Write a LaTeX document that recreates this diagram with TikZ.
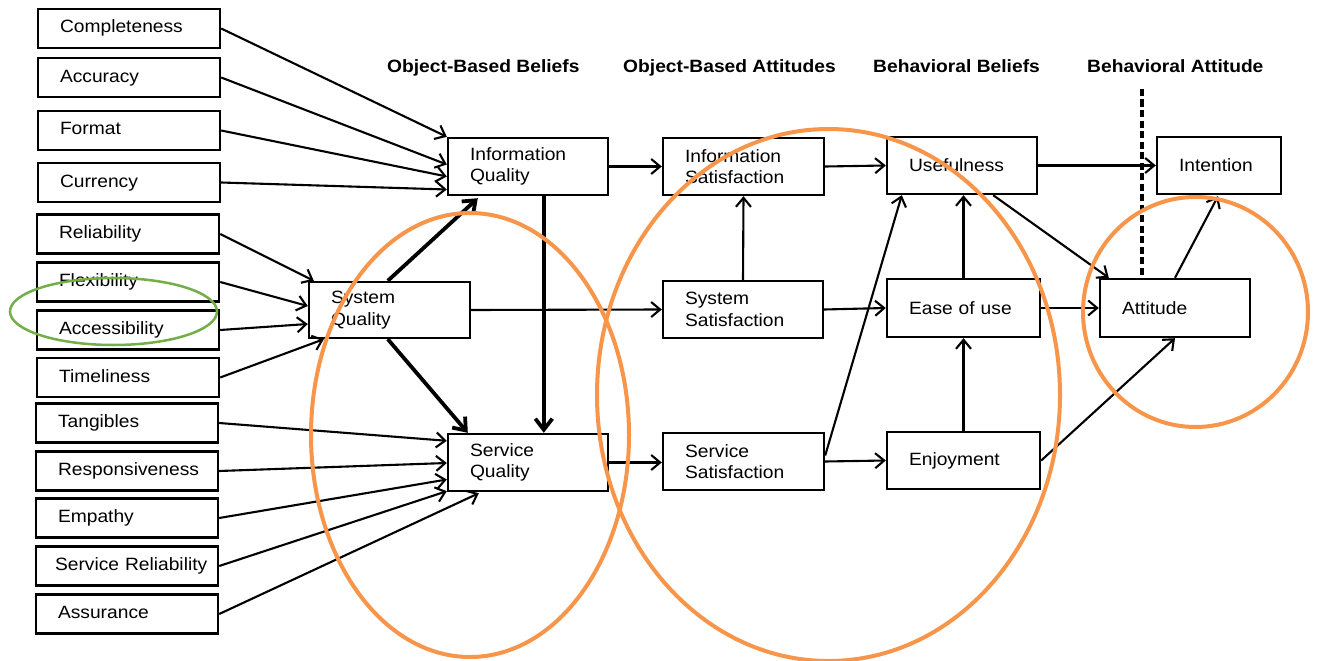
\documentclass[tikz,border=0pt]{standalone}
\usepackage{fontspec}
\setmainfont{Liberation Sans}[FakeStretch=1.08]
\usetikzlibrary{arrows.meta,calc}
\definecolor{orng}{HTML}{F7964A}
\definecolor{grn}{HTML}{74AE48}
\begin{document}
\begin{tikzpicture}[x=1pt,y=-1pt,
  font=\fontsize{17.8pt}{21.5pt}\selectfont,
  box/.style={draw, line width=2.4pt, fill=white, inner xsep=22pt, inner ysep=0pt, align=left},
  lbox/.style={box, minimum height=39pt, text width=138pt, text height=13pt, text depth=4pt},
  mbox/.style={box, minimum height=57pt},
  hdr/.style={font=\fontsize{17.8pt}{21.5pt}\selectfont\bfseries, anchor=base west, inner sep=0pt},
  arr/.style={-{Straight Barb[length=9pt,width=15pt]}, line width=2.1pt},
  tarr/.style={-{Straight Barb[length=11pt,width=17pt]}, line width=3.8pt},
  ring/.style={draw=orng, line width=4pt},
  dsh/.style={line width=4.5pt, dash pattern=on 7pt off 3.5pt}]
\fill[white] (0,0) rectangle (1318,661);
\useasboundingbox (0,0) rectangle (1318,661);

% headers
\node[hdr] (h1) at (387,73) {Object-Based Beliefs};
\node[hdr] (h2) at (623,73) {Object-Based Attitudes};
\node[hdr] (h3) at (873,73) {Behavioral Beliefs};
\node[hdr] (h4) at (1087,73) {Behavioral Attitude};

% left column
\node[lbox, minimum width=182pt] (comp) at (129,28.5) {Completeness};
\node[lbox, minimum width=182pt] (acc) at (129,77.5) {Accuracy};
\node[lbox, minimum width=182pt] (fmt) at (129,130.5) {Format};
\node[lbox, minimum width=182pt] (cur) at (129,182.5) {Currency};
\node[lbox, minimum width=182pt] (rel) at (128,234) {Reliability};
\node[lbox, minimum width=182pt] (flex) at (128,282) {Flexibility};
\node[lbox, minimum width=182pt] (accs) at (128,330) {Accessibility};
\node[lbox, minimum width=182pt] (time) at (128,377.5) {Timeliness};
\node[lbox, minimum width=182pt] (tang) at (127,423) {Tangibles};
\node[lbox, minimum width=182pt] (resp) at (127,471) {Responsiveness};
\node[lbox, minimum width=182pt] (emp) at (127,518) {Empathy};
\node[lbox, minimum width=182pt, inner xsep=19pt, text width=144pt] (srel) at (127,566) {\mbox{Service Reliability}};
\node[lbox, minimum width=182pt] (assu) at (127,614) {Assurance};

% main boxes
\node[mbox, text width=116pt] (iq) at (528,166.5) {Information\\Quality};
\node[mbox, text width=117pt] (isat) at (743.5,166.5) {Information\\Satisfaction};
\node[mbox, text width=106pt] (use) at (962,165.5) {Usefulness};
\node[mbox, text width=80pt] (intn) at (1219,165.5) {Intention};
\node[mbox, text width=117pt, minimum height=56pt] (sq) at (389.5,310) {System\\Quality};
\node[mbox, text width=116pt] (ssat) at (743,309.5) {System\\Satisfaction};
\node[mbox, text width=109pt, minimum height=58pt] (ease) at (963.5,308) {Ease of use};
\node[mbox, text width=106pt, minimum height=58pt] (att) at (1175,308) {Attitude};
\node[mbox, text width=116pt] (servq) at (528,462.5) {Service\\Quality};
\node[mbox, text width=117pt] (servsat) at (743.5,461.5) {Service\\Satisfaction};
\node[mbox, text width=109pt] (enj) at (963.5,460.5) {Enjoyment};

% inputs to Information Quality
\draw[arr] (comp.east) -- (iq.north west);
\draw[arr] (acc.east) -- ($(iq.west)+(0,-2)$);
\draw[arr] (fmt.east) -- ($(iq.west)+(0,10)$);
\draw[arr] (cur.east) -- ($(iq.west)+(0,23)$);
% inputs to System Quality
\draw[arr] (rel.east) -- ($(sq.north west)+(6,0)$);
\draw[arr] (flex.east) -- ($(sq.west)+(0,-4)$);
\draw[arr] (accs.east) -- ($(sq.west)+(0,14)$);
\draw[arr] (time.east) -- ($(sq.south west)+(16,0)$);
% inputs to Service Quality
\draw[arr] (tang.east) -- ($(servq.north west)+(0,8)$);
\draw[arr] (resp.east) -- ($(servq.west)+(0,0.5)$);
\draw[arr] (emp.east) -- ($(servq.west)+(0,17)$);
\draw[arr] (srel.east) -- ($(servq.south west)+(0,-1)$);
\draw[arr] (assu.east) -- ($(servq.south west)+(32,1)$);

% thick arrows
\draw[tarr] ($(sq.north west)+(80,0)$) -- ($(iq.south west)+(31,2)$);
\draw[tarr] ($(sq.south west)+(80,0)$) -- ($(servq.north west)+(21,0)$);
\draw[tarr] ($(iq.south west)+(97,0)$) -- ($(servq.north west)+(97,0)$);

% middle arrows
\draw[arr] (sq.east) -- (ssat.west);
\draw[arr] (iq.east) -- (isat.west);
\draw[arr] (servq.east) -- (servq.east -| servsat.west);
\draw[arr] (ssat.north) -- (isat.south);
\draw[arr] (isat.east) -- (use.west);
\draw[arr] (ssat.east) -- (ease.west);
\draw[arr] (servsat.east) -- (enj.west);
\draw[arr] ($(servsat.east)+(0,-6)$) -- ($(use.south west)+(16,0)$);
\draw[arr] (ease.north) -- (ease.north |- use.south);
\draw[arr] (enj.north) -- (ease.south);
\draw[arr] (use.east) -- (intn.west);
\draw[arr] ($(use.south east)+(-45,0)$) -- ($(att.north west)+(10,0)$);
\draw[arr] (ease.east) -- (att.west);
\draw[arr] (att.north) -- ($(intn.south)+(-1,1)$);
\draw[arr] (enj.east) -- (att.south);

% dashed separator
\coordinate (dtop) at (1142,89);
\draw[dsh] (dtop) -- (dtop |- att.north);

% highlight ellipses
\draw[ring] (470,435) ellipse [x radius=159pt, y radius=222pt];
\draw[ring] (828.5,395) ellipse [x radius=231.5pt, y radius=266pt];
\draw[ring] (1195.5,312) ellipse [x radius=112.5pt, y radius=115pt];
\draw[draw=grn, line width=2.5pt] (113.5,311.5) ellipse [x radius=103.5pt, y radius=33.5pt];
\end{tikzpicture}
\end{document}
